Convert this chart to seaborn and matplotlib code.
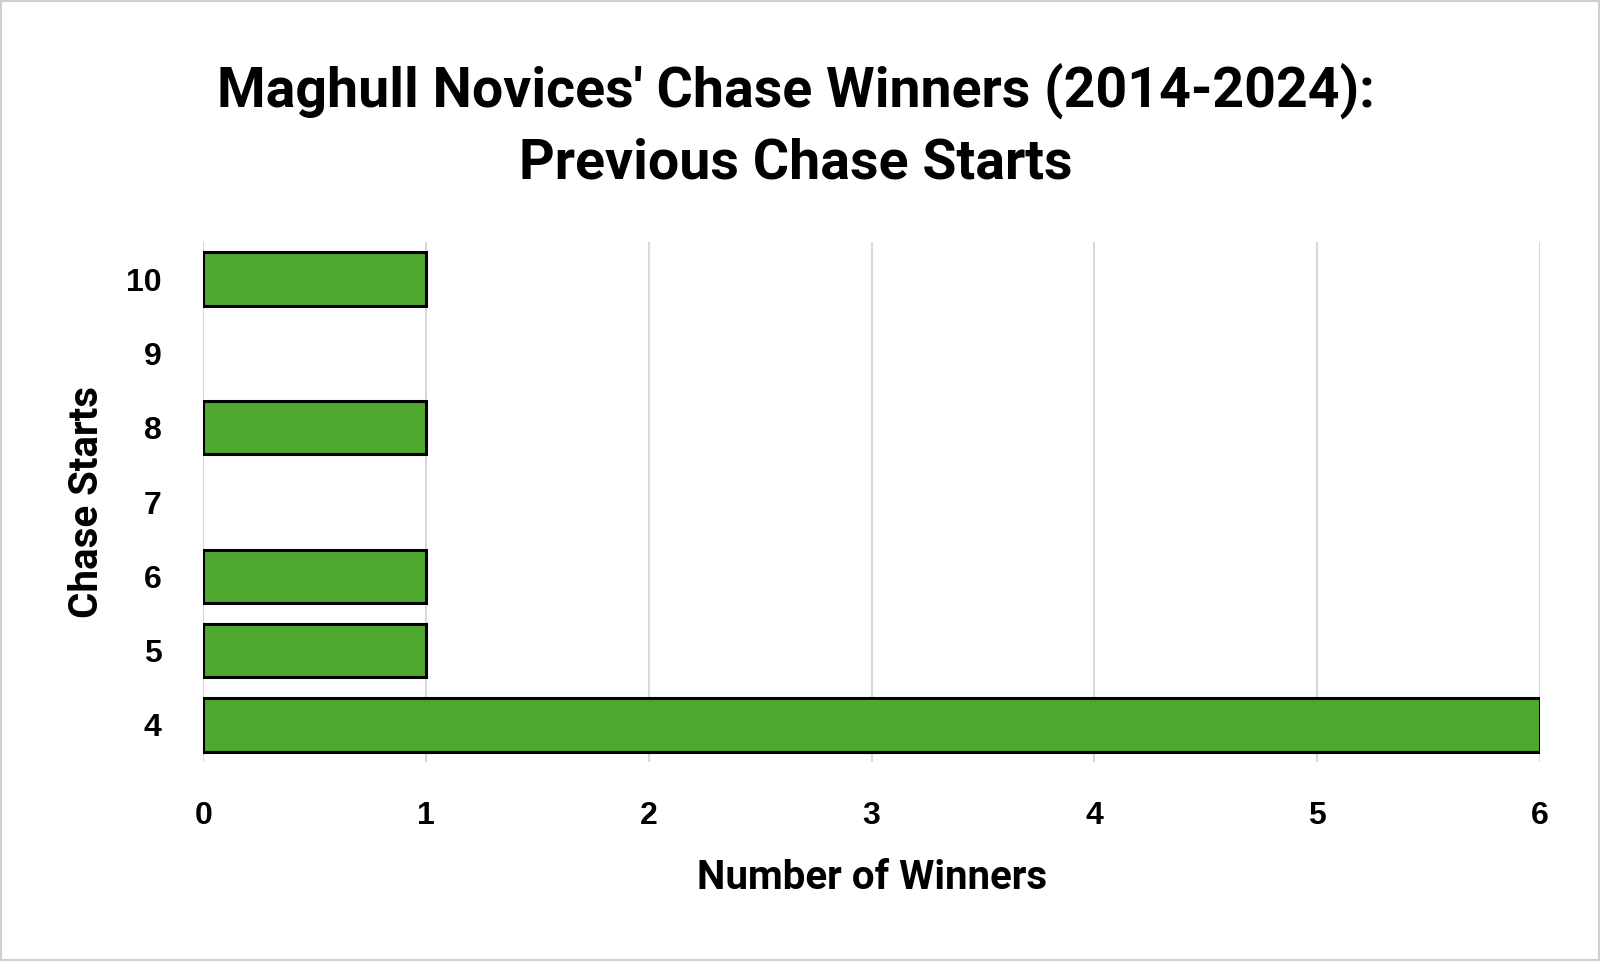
import matplotlib
matplotlib.use("Agg")
import matplotlib.pyplot as plt
import pandas as pd
import seaborn as sns

chase_starts = ["10", "9", "8", "7", "6", "5", "4"]
winners = [1, 0, 1, 0, 1, 1, 6]
x_ticks = [0, 1, 2, 3, 4, 5, 6]

title = "Maghull Novices' Chase Winners (2014-2024):\nPrevious Chase Starts"
bar_color = "#4EA72E"
grid_color = "#D9D9D9"
narrow = ["Liberation Sans Narrow", "Roboto", "DejaVu Sans"]
regular = ["Liberation Sans", "DejaVu Sans"]

df = pd.DataFrame({"Chase Starts": chase_starts, "Number of Winners": winners})

sns.set_theme(style="white")
plt.rcParams["font.family"] = regular
plt.rcParams["text.color"] = "black"
plt.rcParams["xtick.color"] = "black"
plt.rcParams["ytick.color"] = "black"
plt.rcParams["axes.labelcolor"] = "black"

fig = plt.figure(figsize=(16, 9.61), dpi=100)
ax = fig.add_axes([0.127, 1 - 762 / 961, 0.9625 - 0.127, (762 - 242) / 961])

sns.barplot(data=df, x="Number of Winners", y="Chase Starts", order=chase_starts,
            orient="h", color=bar_color, saturation=1, width=0.72,
            edgecolor="black", linewidth=2.2, ax=ax)
# zero-value categories keep their slot but should show no bar outline
for p in ax.patches:
    if p.get_width() == 0:
        p.set_visible(False)

ax.set_xlim(0, 6)
ax.set_ylim(6.5, -0.5)
ax.set_xticks(x_ticks)
ax.set_xticklabels([str(t) for t in x_ticks])
ax.xaxis.grid(True, color=grid_color, linewidth=1.5)
ax.yaxis.grid(False)
ax.set_axisbelow(True)
for s in ax.spines.values():
    s.set_visible(False)

ax.tick_params(axis="both", length=0, labelsize=23)
ax.tick_params(axis="x", pad=28)
ax.tick_params(axis="y", pad=30)
for lab in ax.get_xticklabels() + ax.get_yticklabels():
    lab.set_fontweight("bold")

ax.set_xlabel("Number of Winners", fontsize=29, fontweight="bold", family=narrow, labelpad=20)
ax.set_ylabel("Chase Starts", fontsize=29, fontweight="bold", family=narrow, labelpad=14)

fig.text(0.4975, 1 - 126 / 961, title, ha="center", va="center", fontsize=40,
         fontweight="bold", family=narrow, linespacing=1.45)

fig.patches.append(plt.Rectangle((0, 0), 1, 1, transform=fig.transFigure,
                                 fill=False, edgecolor="#D0D0D0", linewidth=3))

fig.savefig("out.png", dpi=100)
